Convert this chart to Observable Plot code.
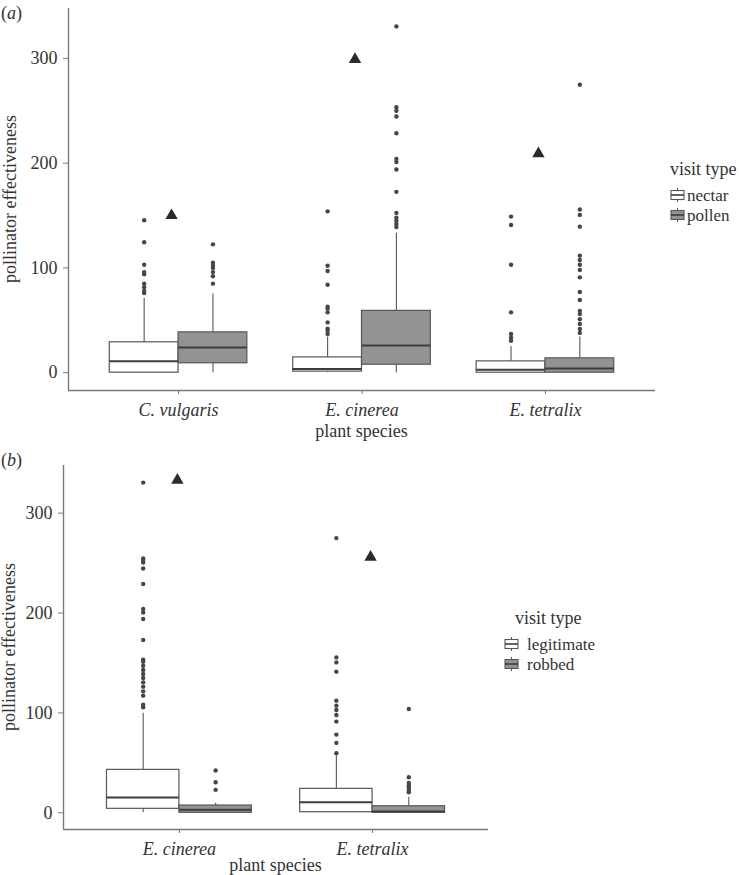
<!DOCTYPE html>
<html>
<head>
<meta charset="utf-8">
<script src="https://cdn.jsdelivr.net/npm/d3@7"></script>
<script src="https://cdn.jsdelivr.net/npm/@observablehq/plot@0.6"></script>
<style>
  html, body { margin: 0; padding: 0; background: #fff; }
  #wrap { width: 739px; }
  #wrap svg { display: block; }
  #wrap svg text { font-family: 'Liberation Serif', 'Times New Roman', Times, serif; }
</style>
</head>
<body>
<div id="wrap"></div>
<script>
// ---------- Panel (a) data ----------
const A_species = ["C. vulgaris", "E. cinerea", "E. tetralix"];
const A_visits = ["nectar", "pollen"];
// order: species x visit (nectar, pollen)
const A_whiskerLow  = [0, 0,   0, 0,    0, 0];
const A_q1          = [0, 9,   1, 7.6,  0, 0];
const A_median      = [11, 24, 3.5, 26, 2.9, 4];
const A_q3          = [29, 38.5, 14.6, 59, 10.8, 13.7];
const A_whiskerHigh = [71, 75, 34, 133, 25, 34];
const A_outliers = [
  [76, 78, 81.5, 85, 94, 96, 103, 124.5, 145.5],
  [85, 92, 96, 100, 102, 105, 122.5],
  [37, 40, 42, 48, 57.6, 61, 63, 84, 97, 102, 154],
  [139, 142, 145, 148, 152.5, 172.6, 194, 201, 204, 228.6, 244.5, 250, 253.4, 330.5],
  [30.5, 33.7, 37, 57.6, 103, 141, 149],
  [38, 41.7, 46.5, 51, 56, 59, 69.4, 77, 91, 98, 103, 107.6, 111.7, 139.4, 150.6, 155.7, 274.8]
];
const A_marker = [150, 299, 209];
const A_ticks = [0, 100, 200, 300];

// ---------- Panel (b) data ----------
const B_species = ["E. cinerea", "E. tetralix"];
const B_visits = ["legitimate", "robbed"];
const B_whiskerLow  = [0, 0,   0, 0];
const B_q1          = [4, 0,   0.6, 0];
const B_median      = [15.3, 3, 10.6, 1.3];
const B_q3          = [43, 7.3, 24, 6.6];
const B_whiskerHigh = [99.7, 9.6, 57, 15.6];
const B_outliers = [
  [105.6, 108.3, 117.3, 121.6, 126.3, 130.6, 135, 139, 143, 147.3, 151.3, 153.3, 173, 194, 200.6, 204, 229, 244.6, 250.6, 253, 254.6, 330.6],
  [23, 30.6, 42.3],
  [59.6, 70, 78.3, 91.3, 98, 103, 107.3, 112.3, 141.3, 150.6, 155.6, 275],
  [20.6, 22, 24, 26, 27.3, 30, 35.6, 104]
];
const B_marker = [333, 256];
const B_ticks = [0, 100, 200, 300];

const fillColors = ["#ffffff", "#939393"];
const axisColor = "#7a7a7a";
const boxStroke = "#575757";
const textColor = "#333333";
const FONT = "'Liberation Serif', 'Times New Roman', Times, serif";
const FS = 18;

function buildRows(species, visits, low, q1, med, q3, high, outliers) {
  const rows = [];
  species.forEach((s, i) => visits.forEach((v, j) => {
    const k = i * visits.length + j;
    rows.push({species: s, visit: v, i, j, low: low[k], q1: q1[k], med: med[k], q3: q3[k], high: high[k], outliers: outliers[k]});
  }));
  return rows;
}

function panel(cfg) {
  const {species, visits, rows, marker, ticks, yDomain, height, marginTop, marginBottom, marginLeft, marginRight, markerDx} = cfg;
  const w = 0.375;
  const xc = d => d.i + (d.j - 0.5) * w;
  const outRows = rows.flatMap(d => d.outliers.map(v => ({...d, value: v})));
  const markRows = species.map((s, i) => ({i, value: marker[i]}));
  const xMin = -0.6, xMax = species.length - 1 + 0.6;
  return Plot.plot({
    width: 739, height, marginTop, marginBottom, marginLeft, marginRight,
    x: {domain: [xMin, xMax], axis: null},
    y: {domain: yDomain, axis: null},
    color: {domain: visits, range: fillColors},
    style: {fontFamily: FONT, fontSize: FS + "px", color: textColor, background: "white", overflow: "visible"},
    marks: [
      Plot.ruleX([xMin], {stroke: axisColor, strokeWidth: 1.4}),
      Plot.ruleY([yDomain[0]], {stroke: axisColor, strokeWidth: 1.4}),
      Plot.axisY({ticks, tickSize: 5, tickPadding: 6, stroke: axisColor, fill: textColor, label: null, fontSize: FS}),
      Plot.axisX({ticks: d3.range(species.length), tickFormat: i => species[i], tickSize: 4, tickPadding: 9, stroke: axisColor, fill: textColor, label: null, fontSize: FS, fontStyle: "italic"}),
      Plot.ruleX(rows, {x: xc, y1: "low", y2: "q1", stroke: boxStroke, strokeWidth: 1.1}),
      Plot.ruleX(rows, {x: xc, y1: "q3", y2: "high", stroke: boxStroke, strokeWidth: 1.1}),
      Plot.rect(rows, {x1: d => d.i + (d.j - 1) * w, x2: d => d.i + d.j * w, y1: "q1", y2: "q3", fill: "visit", stroke: boxStroke, strokeWidth: 1.2}),
      Plot.ruleY(rows, {x1: d => d.i + (d.j - 1) * w, x2: d => d.i + d.j * w, y: "med", stroke: "#3d3d3d", strokeWidth: 2}),
      Plot.dot(outRows, {x: xc, y: "value", r: 2.2, fill: "#464646", stroke: "none"}),
      Plot.dot(markRows, {x: "i", y: "value", symbol: "triangle", r: 4.6, fill: "#2b2b2b", stroke: "none", dx: markerDx})
    ]
  });
}

function addText(svg, x, y, str, opts = {}) {
  const t = d3.select(svg).append("text")
    .attr("x", x).attr("y", y)
    .attr("fill", textColor)
    .style("font-family", FONT)
    .style("font-size", (opts.size || FS) + "px")
    .attr("text-anchor", opts.anchor || "start");
  if (opts.rotate) t.attr("transform", `rotate(-90 ${x} ${y})`);
  if (opts.italic) t.style("font-style", "italic");
  t.text(str);
  return t;
}

function addPanelLabel(svg, x, y, letter) {
  const t = d3.select(svg).append("text")
    .attr("x", x).attr("y", y).attr("fill", textColor)
    .attr("text-anchor", "start")
    .style("font-family", FONT).style("font-size", FS + "px");
  t.append("tspan").text("(");
  t.append("tspan").style("font-style", "italic").text(letter);
  t.append("tspan").text(")");
}

function addLegend(svg, title, titleX, titleY, keyX, textX, labels, ys) {
  const g = d3.select(svg).append("g");
  addText(svg, titleX, titleY, title);
  labels.forEach((lab, k) => {
    const cy = ys[k];
    const cx = keyX + 6.5;
    g.append("line").attr("x1", cx).attr("x2", cx).attr("y1", cy - 7).attr("y2", cy + 7)
      .attr("stroke", boxStroke).attr("stroke-width", 1);
    g.append("rect").attr("x", keyX).attr("y", cy - 4.5).attr("width", 13).attr("height", 9)
      .attr("fill", fillColors[k]).attr("stroke", boxStroke).attr("stroke-width", 1.1);
    g.append("line").attr("x1", keyX).attr("x2", keyX + 13).attr("y1", cy).attr("y2", cy)
      .attr("stroke", "#3d3d3d").attr("stroke-width", 1.6);
    addText(svg, textX, cy + 5.5, lab, {size: 17});
  });
}

const wrap = document.getElementById("wrap");

// Panel (a)
const rowsA = buildRows(A_species, A_visits, A_whiskerLow, A_q1, A_median, A_q3, A_whiskerHigh, A_outliers);
const svgA = panel({
  species: A_species, visits: A_visits, rows: rowsA, marker: A_marker, ticks: A_ticks,
  yDomain: [-17, 347.6], height: 440, marginTop: 8, marginBottom: 50, marginLeft: 68, marginRight: 84, markerDx: -7
});
wrap.appendChild(svgA);
addPanelLabel(svgA, 1, 19, "a");
addText(svgA, 16, 199, "pollinator effectiveness", {rotate: true, anchor: "middle"});
addText(svgA, 361.5, 437, "plant species", {anchor: "middle"});
addLegend(svgA, "visit type", 670, 175, 671, 687, A_visits, [195, 215]);

// Panel (b)
const rowsB = buildRows(B_species, B_visits, B_whiskerLow, B_q1, B_median, B_q3, B_whiskerHigh, B_outliers);
const svgB = panel({
  species: B_species, visits: B_visits, rows: rowsB, marker: B_marker, ticks: B_ticks,
  yDomain: [-16.7, 347.7], height: 435, marginTop: 25, marginBottom: 46, marginLeft: 63, marginRight: 251, markerDx: -2
});
wrap.appendChild(svgB);
addPanelLabel(svgB, 1, 26, "b");
addText(svgB, 15, 207, "pollinator effectiveness", {rotate: true, anchor: "middle"});
addText(svgB, 275.5, 431, "plant species", {anchor: "middle"});
addLegend(svgB, "visit type", 515, 184, 505, 527, B_visits, [204, 224]);

// italic category tick labels, serif font everywhere
d3.selectAll("#wrap svg g[aria-label='x-axis tick label'] text").style("font-style", "italic");
d3.selectAll("#wrap svg text").style("font-family", FONT);
</script>
</body>
</html>
